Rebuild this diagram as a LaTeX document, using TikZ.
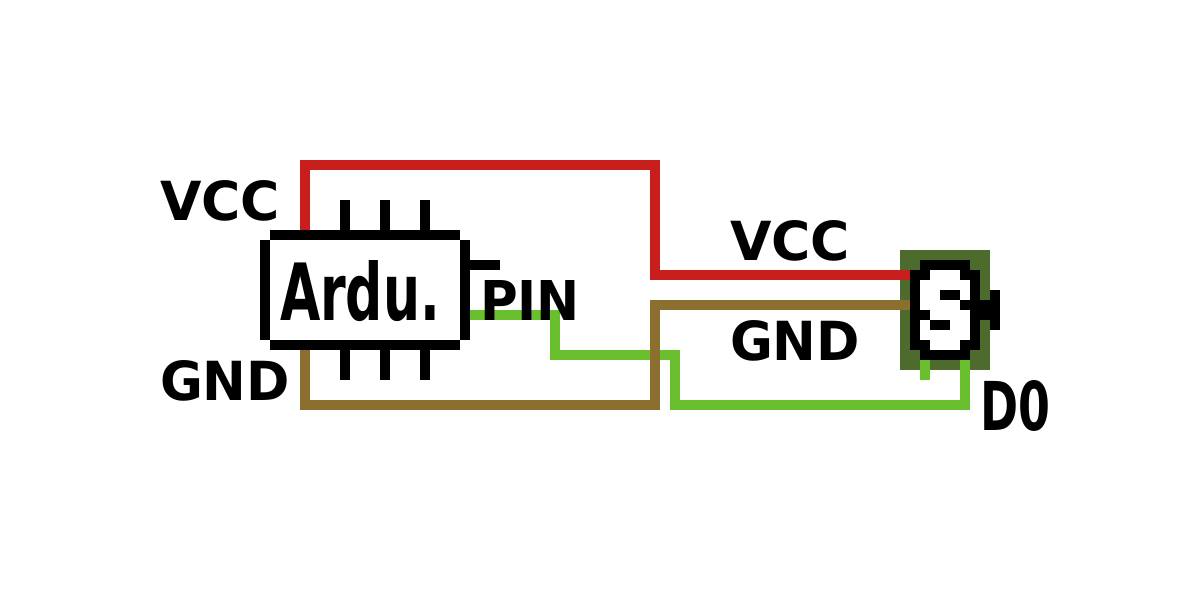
\documentclass[tikz,border=0pt]{standalone}
\usepackage{graphicx}
\usepackage{fontspec}
\setmainfont{DejaVu Sans}
\definecolor{wirered}{HTML}{C81E1E}
\definecolor{wirebrown}{HTML}{8B6F2E}
\definecolor{wiregreen}{HTML}{6ABF2E}
\definecolor{boardgreen}{HTML}{4E6B2E}
\tikzset{
  wire/.style={line width=10pt,line cap=butt,line join=miter},
  pixel/.style={fill=black},
  label/.style={inner sep=0pt,outer sep=0pt,anchor=north west,font=\bfseries}
}
\newcommand{\pxlabel}[3]{\resizebox{#1pt}{#2pt}{#3}}
\begin{document}
\begin{tikzpicture}[x=1pt,y=-1pt]
\useasboundingbox (0,0) rectangle (1200,600);
\fill[white] (0,0) rectangle (1200,600);

% wire end points
\coordinate (ardVcc) at (305,230);
\coordinate (ardGnd) at (305,350);
\coordinate (ardPin) at (470,315);
\coordinate (senVcc) at (910,275);
\coordinate (senGnd) at (910,305);
\coordinate (senDo) at (965,360);

% sensor board
\fill[boardgreen] (900,250) rectangle (990,370);

% wires
\draw[wire,wirered] (ardVcc) -- (305,165) -- (655,165) -- (655,275) -- (senVcc);
\draw[wire,wiregreen] (ardPin) -- (555,315) -- (555,355) -- (675,355) -- (675,405) -- (965,405) -- (senDo);
\draw[wire,wirebrown] (ardGnd) -- (305,405) -- (655,405) -- (655,305) -- (senGnd);
\fill[wiregreen] (920,360) rectangle (930,380);

% Arduino outline
\fill[pixel] (270,230) rectangle (460,240);
\fill[pixel] (270,340) rectangle (460,350);
\fill[pixel] (260,240) rectangle (270,340);
\fill[pixel] (460,240) rectangle (470,340);
% Arduino pins
\fill[pixel] (340,200) rectangle (350,230);
\fill[pixel] (380,200) rectangle (390,230);
\fill[pixel] (420,200) rectangle (430,230);
\fill[pixel] (340,350) rectangle (350,380);
\fill[pixel] (380,350) rectangle (390,380);
\fill[pixel] (420,350) rectangle (430,380);
\fill[pixel] (470,260) rectangle (500,270);

% sensor
\fill[white] (920,270) rectangle (970,350);
\fill[pixel] (920,260) rectangle (970,270);
\fill[pixel] (920,350) rectangle (970,360);
\fill[pixel] (910,270) rectangle (920,350);
\fill[pixel] (970,270) rectangle (980,350);
\fill[pixel] (920,270) rectangle (930,280);
\fill[pixel] (960,270) rectangle (970,280);
\fill[pixel] (920,340) rectangle (930,350);
\fill[pixel] (960,340) rectangle (970,350);
\fill[pixel] (920,310) rectangle (930,320);
\fill[pixel] (960,300) rectangle (970,310);
\fill[pixel] (940,290) rectangle (960,300);
\fill[pixel] (930,320) rectangle (950,330);
\fill[pixel] (980,300) rectangle (990,320);
\fill[pixel] (990,290) rectangle (1000,330);

% labels
\node[label] (lVccL) at (160,180) {\pxlabel{120}{40}{VCC}};
\node[label] (lGndL) at (160,360) {\pxlabel{130}{40}{GND}};
\node[label] (lArdu) at (280,260) {\pxlabel{160}{60}{Ardu.}};
\node[label] (lPin) at (480,280) {\pxlabel{100}{40}{PIN}};
\node[label] (lVccR) at (730,220) {\pxlabel{120}{40}{VCC}};
\node[label] (lGndR) at (730,320) {\pxlabel{130}{40}{GND}};
\node[label] (lDo) at (980,380) {\pxlabel{70}{50}{D0}};
\end{tikzpicture}
\end{document}
